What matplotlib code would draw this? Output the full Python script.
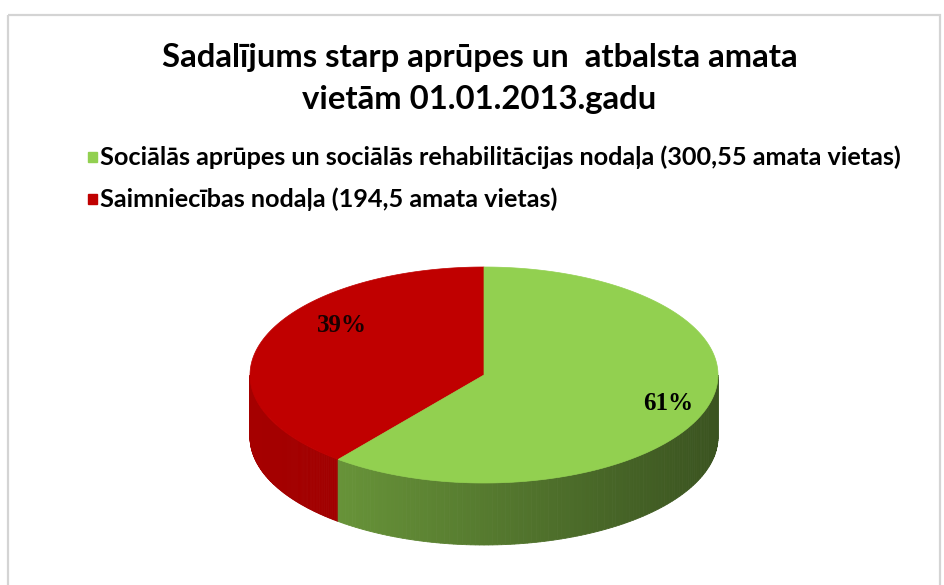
import numpy as np
import matplotlib
matplotlib.use("Agg")
import matplotlib.pyplot as plt
from matplotlib.patches import Polygon, Rectangle
from matplotlib.colors import to_rgb

title_lines = ["Sadalījums starp aprūpes un  atbalsta amata", "vietām 01.01.2013.gadu"]
categories = ["Sociālās aprūpes un sociālās rehabilitācijas nodaļa (300,55 amata vietas)",
              "Saimniecības nodaļa (194,5 amata vietas)"]
values = [300.55, 194.5]
colors_top = ["#92D050", "#C00000"]

fam = ['Lato', 'DejaVu Sans']

fig = plt.figure(figsize=(9.45, 5.85), dpi=100)
ax = fig.add_axes([0, 0, 1, 1])
ax.set_xlim(0, 945)
ax.set_ylim(585, 0)
ax.axis('off')
renderer = fig.canvas.get_renderer()

def fit(t, target_w, size):
    for _ in range(4):
        w = t.get_window_extent(renderer).width
        size = size * target_w / w
        t.set_fontsize(size)
    return size

# border
ax.add_patch(Rectangle((8, 15), 932, 600, fill=False, ec="#d4d4d4", lw=1.6))

cx, cy, a, b, depth = 484, 375, 234, 108, 62

def pt(theta_deg):
    t = np.radians(theta_deg)
    return cx + a * np.cos(t), cy - b * np.sin(t)

total = sum(values)
pcts = [v / total for v in values]
red_start = 90
red_end = 90 + 360 * pcts[1]
slice_ranges = {1: (red_start, red_end), 0: (red_end, 450)}

def shade(c, f):
    r, g, bb = to_rgb(c)
    return (r * f, g * f, bb * f)

# side walls (front half)
for idx, (s, e) in slice_ranges.items():
    lo = max(s, 180)
    hi = min(e, 360)
    if hi <= lo:
        continue
    n = 120
    ts = np.linspace(lo, hi, n + 1)
    for i in range(n):
        t0, t1 = ts[i], ts[i + 1]
        x0, y0 = pt(t0)
        x1, y1 = pt(t1)
        frac = (np.cos(np.radians((t0 + t1) / 2)) + 1) / 2
        if idx == 0:
            f = 0.78 - 0.38 * frac
        else:
            f = 0.86 - 0.12 * frac
        col = shade(colors_top[idx], f)
        ax.add_patch(Polygon([(x0, y0), (x1, y1), (x1, y1 + depth), (x0, y0 + depth)],
                             closed=True, fc=col, ec=col, lw=0.6))

# top faces
for idx, (s, e) in slice_ranges.items():
    ts = np.linspace(s, e, 200)
    poly = [(cx, cy)] + [pt(t) for t in ts]
    ax.add_patch(Polygon(poly, closed=True, fc=colors_top[idx], ec=colors_top[idx], lw=0.5))

# labels
pct_text = [f"{round(p*100):d}%" for p in pcts]
l0 = ax.text(668, 404, pct_text[0], ha='center', va='center', fontsize=17, fontweight='bold',
             family=['Liberation Serif', 'DejaVu Serif'], color='black')
l1 = ax.text(342, 325, pct_text[1], ha='center', va='center', fontsize=17, fontweight='bold',
             family=['Liberation Serif', 'DejaVu Serif'], color='#1a0000')
fit(l0, 50, 17)
fit(l1, 50, 17)

# title
t1 = ax.text(480, 57, title_lines[0], ha='center', va='center', fontsize=21, fontweight='bold', family=fam)
t2 = ax.text(479, 100, title_lines[1], ha='center', va='center', fontsize=21, fontweight='bold', family=fam)
s = fit(t1, 634, 21)
t2.set_fontsize(s)

# legend
leg_y = [157, 199]
texts = []
for i, (lab, col) in enumerate(zip(categories, colors_top)):
    ax.add_patch(Rectangle((88, leg_y[i] - 5), 9, 10, fc=col, ec=col))
    texts.append(ax.text(100, leg_y[i], lab, ha='left', va='center', fontsize=15, fontweight='bold',
                         family=fam))
s2 = fit(texts[0], 803, 15)
texts[1].set_fontsize(s2)

fig.savefig("out.png", dpi=100)
